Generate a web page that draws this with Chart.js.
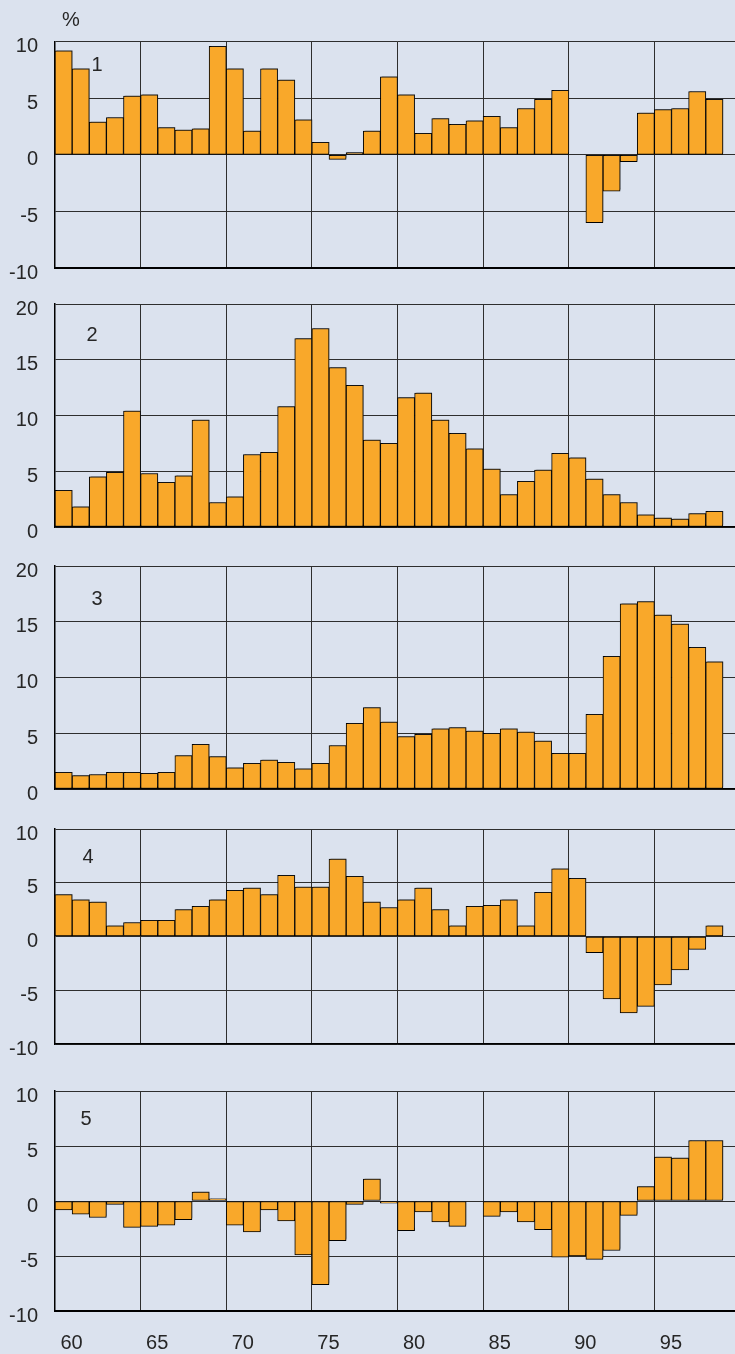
<!DOCTYPE html>
<html>
<head>
<meta charset="utf-8">
<script src="https://cdn.jsdelivr.net/npm/chart.js@4/dist/chart.umd.min.js"></script>
<style>
  html, body { margin: 0; padding: 0; background: #dbe2ee; overflow: hidden; }
  #wrap { position: relative; width: 735px; height: 1354px; overflow: hidden; }
  canvas { position: absolute; left: 0; }
</style>
</head>
<body>
<div id="wrap">
  <canvas id="c1"></canvas>
  <canvas id="c2"></canvas>
  <canvas id="c3"></canvas>
  <canvas id="c4"></canvas>
  <canvas id="c5"></canvas>
</div>
<script>
// years 1960..1999 (1999 slot stays empty)
const years = [1960, 1961, 1962, 1963, 1964, 1965, 1966, 1967, 1968, 1969,
  1970, 1971, 1972, 1973, 1974, 1975, 1976, 1977, 1978, 1979,
  1980, 1981, 1982, 1983, 1984, 1985, 1986, 1987, 1988, 1989,
  1990, 1991, 1992, 1993, 1994, 1995, 1996, 1997, 1998, 1999];
const tickYears = ['60', '65', '70', '75', '80', '85', '90', '95'];

const series1 = [9.2, 7.6, 2.9, 3.3, 5.2, 5.3, 2.4, 2.2, 2.3, 9.6, 7.6, 2.1, 7.6, 6.6, 3.1, 1.1, -0.4, 0.2, 2.1, 6.9,
  5.3, 1.9, 3.2, 2.7, 3.0, 3.4, 2.4, 4.1, 4.9, 5.7, 0, -6.0, -3.2, -0.6, 3.7, 4.0, 4.1, 5.6, 4.9];
const series2 = [3.3, 1.8, 4.5, 4.9, 10.4, 4.8, 4.0, 4.6, 9.6, 2.2, 2.7, 6.5, 6.7, 10.8, 16.9, 17.8, 14.3, 12.7, 7.8, 7.5,
  11.6, 12.0, 9.6, 8.4, 7.0, 5.2, 2.9, 4.1, 5.1, 6.6, 6.2, 4.3, 2.9, 2.2, 1.1, 0.8, 0.7, 1.2, 1.4];
const series3 = [1.5, 1.2, 1.3, 1.5, 1.5, 1.4, 1.5, 3.0, 4.0, 2.9, 1.9, 2.3, 2.6, 2.4, 1.8, 2.3, 3.9, 5.9, 7.3, 6.0,
  4.7, 4.9, 5.4, 5.5, 5.2, 5.0, 5.4, 5.1, 4.3, 3.2, 3.2, 6.7, 11.9, 16.6, 16.8, 15.6, 14.8, 12.7, 11.4];
const series4 = [3.9, 3.4, 3.2, 1.0, 1.3, 1.5, 1.5, 2.5, 2.8, 3.4, 4.3, 4.5, 3.9, 5.7, 4.6, 4.6, 7.2, 5.6, 3.2, 2.7,
  3.4, 4.5, 2.5, 1.0, 2.8, 2.9, 3.4, 1.0, 4.1, 6.3, 5.4, -1.5, -5.8, -7.1, -6.5, -4.5, -3.1, -1.2, 1.0];
const series5 = [-0.8, -1.2, -1.5, -0.3, -2.4, -2.3, -2.2, -1.7, 0.8, 0.2, -2.2, -2.8, -0.8, -1.8, -4.9, -7.6, -3.6, -0.3, 2.0, -0.2,
  -2.7, -1.0, -1.9, -2.3, 0, -1.4, -1.0, -1.9, -2.6, -5.1, -5.0, -5.3, -4.5, -1.3, 1.3, 4.0, 3.9, 5.5, 5.5];

const panelNames = ['1', '2', '3', '4', '5'];
const yRanges = [[-10, 10], [0, 20], [0, 20], [-10, 10], [-10, 10]];

// plot area top / bottom in page pixels, and where the panel number sits
const panels = [
  { id: 'c1', data: series1, top: 41.7, bottom: 268.3, num: [42, 24], axisW: 2 },
  { id: 'c2', data: series2, top: 304.3, bottom: 527.7, num: [37, 31], axisW: 1.5 },
  { id: 'c3', data: series3, top: 566, bottom: 789.3, num: [42, 33], axisW: 1.5 },
  { id: 'c4', data: series4, top: 828.7, bottom: 1043.3, num: [33, 28], axisW: 1.5 },
  { id: 'c5', data: series5, top: 1090.7, bottom: 1311, num: [31, 28], axisW: 2 }
];

const FONT = { family: '"Liberation Sans", Arial, sans-serif', size: 20 };
const TEXT = '#262626';
const GRID = '#2e2e2e';

// soft shadow on the bars like the original
const barShadow = {
  id: 'barShadow',
  beforeDatasetsDraw(chart) {
    const ctx = chart.ctx;
    ctx.save();
    ctx.shadowColor = 'rgba(40,40,40,0.45)';
    ctx.shadowOffsetX = 1.5;
    ctx.shadowOffsetY = -1.5;
    ctx.shadowBlur = 0;
  },
  afterDatasetsDraw(chart) {
    chart.ctx.restore();
  }
};

const panelLabel = {
  id: 'panelLabel',
  afterDraw(chart, args, opts) {
    const ctx = chart.ctx;
    const a = chart.chartArea;
    ctx.save();
    ctx.fillStyle = TEXT;
    ctx.font = FONT.size + 'px ' + FONT.family;
    ctx.textAlign = 'center';
    ctx.textBaseline = 'middle';
    ctx.fillText(opts.text, a.left + opts.dx, a.top + opts.dy);
    if (opts.unit) ctx.fillText('%', 71, 20);
    ctx.restore();
  }
};

panels.forEach((p, i) => {
  const last = i === panels.length - 1;
  const padTop = i === 0 ? p.top : 32;
  const padBottom = last ? 0 : 32;
  const xAxisH = last ? 64 : 0;
  const cv = document.getElementById(p.id);
  const h = Math.round(padTop + (p.bottom - p.top) + padBottom + xAxisH);
  cv.width = 740;
  cv.height = h;
  cv.style.width = '740px';
  cv.style.height = h + 'px';
  cv.style.top = (p.top - padTop) + 'px';

  new Chart(cv, {
    type: 'bar',
    data: {
      labels: years,
      datasets: [{
        data: p.data,
        backgroundColor: '#f9a82a',
        borderColor: '#000',
        borderWidth: 1,
        borderSkipped: false,
        barPercentage: 1,
        categoryPercentage: 1
      }]
    },
    options: {
      responsive: false,
      animation: false,
      devicePixelRatio: 1,
      layout: { padding: { top: padTop, bottom: padBottom, left: 0, right: 0 } },
      plugins: {
        legend: { display: false },
        tooltip: { enabled: false },
        panelLabel: { text: panelNames[i], dx: p.num[0], dy: p.num[1], unit: i === 0 }
      },
      scales: {
        x: {
          offset: true,
          grid: {
            offset: true,
            drawTicks: false,
            lineWidth: 1,
            color: c => (c.index > 0 && c.index < years.length && c.index % 5 === 0) ? GRID : 'rgba(0,0,0,0)'
          },
          border: { display: true, color: '#000', width: p.axisW },
          ticks: {
            display: last,
            autoSkip: false,
            maxRotation: 0,
            minRotation: 0,
            padding: 20,
            labelOffset: 8,
            color: TEXT,
            font: FONT,
            callback: (v, idx) => idx % 5 === 0 ? (tickYears[idx / 5] || '') : ''
          },
          afterFit: s => { s.paddingLeft = 0; s.paddingRight = 0; }
        },
        y: {
          min: yRanges[i][0],
          max: yRanges[i][1],
          grid: { drawTicks: false, color: GRID, lineWidth: 1 },
          border: { display: true, color: '#000', width: 1.5 },
          ticks: {
            stepSize: 5,
            padding: 17,
            labelOffset: 5,
            color: TEXT,
            font: FONT
          },
          afterFit: s => { s.width = 55; }
        }
      }
    },
    plugins: [barShadow, panelLabel]
  });
});
</script>
</body>
</html>
